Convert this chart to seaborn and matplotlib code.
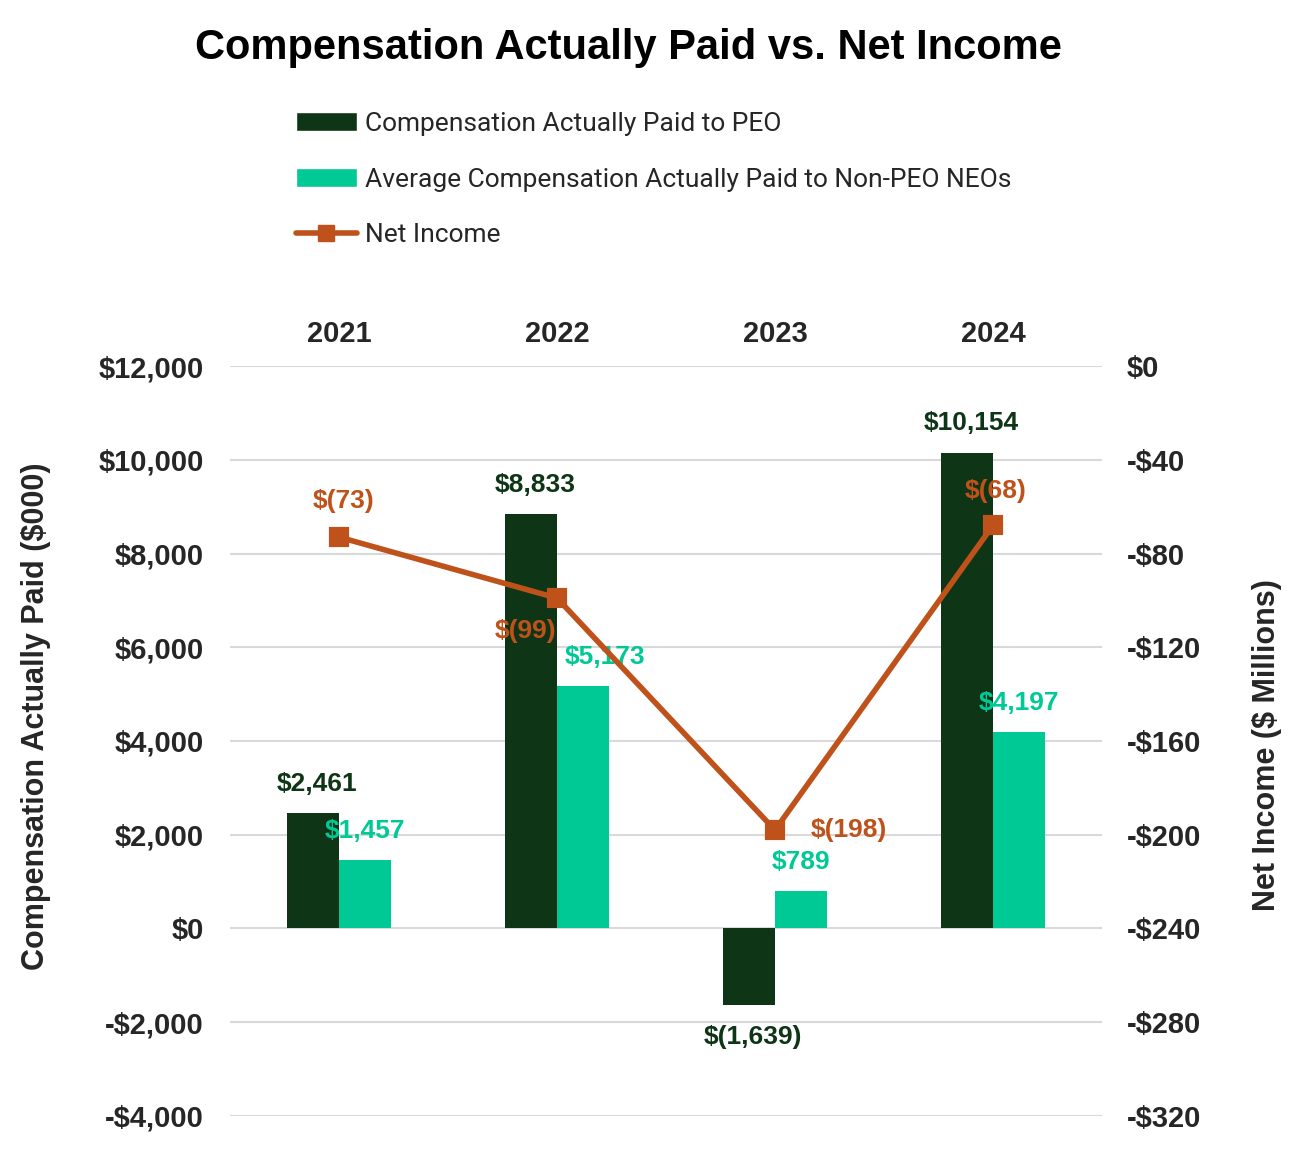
import pandas as pd
import matplotlib.pyplot as plt
import seaborn as sns
from matplotlib.patches import Patch
from matplotlib.lines import Line2D
from matplotlib.ticker import FuncFormatter

years = ['2021', '2022', '2023', '2024']
peo_cap = [2461, 8833, -1639, 10154]
neo_cap = [1457, 5173, 789, 4197]
net_income = [-73, -99, -198, -68]

series_names = ['Compensation Actually Paid to PEO',
                'Average Compensation Actually Paid to Non-PEO NEOs']
line_name = 'Net Income'

dark_green = '#0e3516'
teal = '#00c996'
orange = '#bf521a'

sns.set_style('white')
plt.rcParams['font.family'] = ['Liberation Sans', 'DejaVu Sans']

df = pd.DataFrame({
    'year': years * 2,
    'value': peo_cap + neo_cap,
    'series': [series_names[0]] * 4 + [series_names[1]] * 4,
})

fig = plt.figure(figsize=(13.12, 11.65), dpi=100)
ax = fig.add_axes([0.1753, 0.0421, 0.6646, 0.6437])

sns.barplot(data=df, x='year', y='value', hue='series', palette=[dark_green, teal],
            width=0.48, gap=0, saturation=1, legend=False, linewidth=0, ax=ax, zorder=2)

ax2 = ax.twinx()
sns.pointplot(x=years, y=net_income, ax=ax2, color=orange, markers='s',
              linestyles='-', errorbar=None, markersize=12, linewidth=4)

# axes ranges / ticks
ax.set_xlim(-0.5, 3.5)
ax.set_ylim(-4000, 12000)
ax.set_yticks(range(-4000, 12001, 2000))
ax2.set_ylim(-320, 0)
ax2.set_yticks(range(-320, 1, 40))

def money(v, pos=None):
    v = int(round(v))
    return f'${v:,}' if v >= 0 else f'-${-v:,}'

ax.yaxis.set_major_formatter(FuncFormatter(money))
ax2.yaxis.set_major_formatter(FuncFormatter(money))

ax.grid(axis='y', color='#d9d9d9', linewidth=1.5, zorder=0)
ax.grid(axis='x', visible=False)
ax.set_axisbelow(True)
for a in (ax, ax2):
    for s in a.spines.values():
        s.set_visible(False)

ax.xaxis.tick_top()
ax.tick_params(axis='x', length=0, pad=13, labelsize=21, colors='#262626')
ax.tick_params(axis='y', length=0, pad=19, labelsize=21, colors='#262626')
ax2.tick_params(axis='y', length=0, pad=18, labelsize=21, colors='#262626')
for lab in ax.get_xticklabels() + ax.get_yticklabels() + ax2.get_yticklabels():
    lab.set_fontweight('bold')

ax.set_xlabel('')
ax.set_ylabel('Compensation Actually Paid ($000)', fontsize=22, fontweight='bold', color='#262626')
ax.yaxis.set_label_coords(-0.205, 0.533)
ax2.set_ylabel('Net Income ($ Millions)', fontsize=22, fontweight='bold', color='#262626')
ax2.yaxis.set_label_coords(1.172, 0.495)

# bar labels
label_colors = [dark_green, teal]
nudges = [[(3, 0), (3, 0), (3, 0), (3, 0)],
          [(0, 0), (16, 0), (0, 0), (0, 0)]]
for ci, cont in enumerate(ax.containers):
    for bi, bar in enumerate(cont):
        h = bar.get_height()
        xc = bar.get_x() + bar.get_width() / 2
        dx, dy = nudges[ci][bi]
        if h >= 0:
            txt = f'${h:,.0f}'
            off = (dx, 21 + dy)
        else:
            txt = f'$({-h:,.0f})'
            off = (dx, -23 + dy)
        ax.annotate(txt, (xc, h), xytext=off, textcoords='offset points',
                    ha='center', va='center', fontsize=19, fontweight='bold',
                    color=label_colors[ci])

# net income labels
ni_offsets = [(3, 26), (-23, -24), (53, 0), (2, 25)]
for i, v in enumerate(net_income):
    ax2.annotate(f'$({-v})', (i, v), xytext=ni_offsets[i], textcoords='offset points',
                 ha='center', va='center', fontsize=19, fontweight='bold', color=orange)

fig.text(0.479, 0.9585, 'Compensation Actually Paid vs. Net Income',
         ha='center', va='center', fontsize=30, fontweight='bold', color='black')

handles = [Patch(facecolor=dark_green, label=series_names[0]),
           Patch(facecolor=teal, label=series_names[1]),
           Line2D([], [], color=orange, lw=4, marker='s', markersize=12, label=line_name)]
leg = fig.legend(handles=handles, loc='upper left', bbox_to_anchor=(0.2256, 0.904),
                 frameon=False, borderpad=0, borderaxespad=0, handlelength=2.3,
                 handletextpad=0.3, labelspacing=1.2,
                 prop={'family': ['Roboto', 'DejaVu Sans'], 'size': 19})
for t in leg.get_texts():
    t.set_color('#262626')

fig.savefig('out.png', dpi=100)
